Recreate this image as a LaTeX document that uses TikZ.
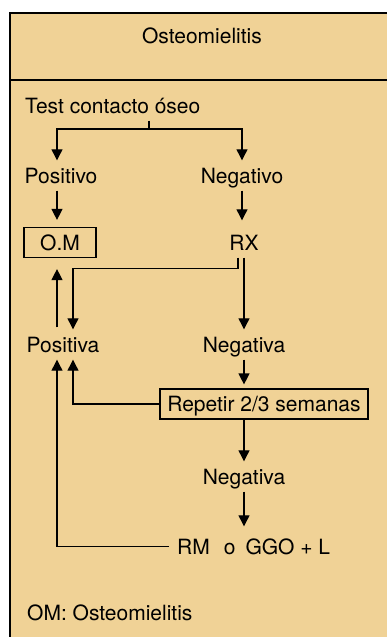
\documentclass[tikz,border=0pt]{standalone}
\usepackage{fontspec}
\setmainfont{TeX Gyre Heros}
\usetikzlibrary{arrows.meta}
\definecolor{sand}{RGB}{240,210,150}

\begin{document}
\begin{tikzpicture}[x=1pt,y=-1pt,
  lbl/.style={inner sep=0pt,minimum height=30pt,text height=15pt,text depth=0pt,
    font=\fontsize{21}{25}\selectfont},
  boxed/.style={lbl,draw,line width=1.2pt},
  arr/.style={-{Triangle[width=11pt,length=11pt]},line width=1.2pt},
  ln/.style={line width=1.2pt}]
\useasboundingbox (0,0) rectangle (387,637);
\clip (0,0) rectangle (387,637);

% frame
\draw[line width=2.5pt,fill=sand] (10,13) rectangle (400,660);
\draw[line width=2.5pt] (10,80) -- (400,80);

\node[lbl] (title) at (202,35.5) {Osteomielitis};
\node[lbl,anchor=west] (test) at (25,105.5) {Test contacto óseo};
\node[lbl] (pos) at (61,175.5) {Positivo};
\node[lbl] (neg) at (242,175.5) {Negativo};
\node[boxed,minimum width=72pt] (om) at (60,242.5) {O.M};
\node[lbl] (rx) at (244,242.5) {RX};
\node[lbl] (posa) at (63,344.5) {Positiva};
\node[lbl] (nega) at (244,344.5) {Negativa};
\node[boxed,minimum width=208pt] (rep) at (264,404) {Repetir 2/3 semanas};
\node[lbl] (nega2) at (244,476.5) {Negativa};
\node[lbl,anchor=west] (rm) at (177,546.5) {RM\hspace{14pt}o\hspace{10pt}GGO + L};
\node[lbl,anchor=west] (note) at (27,612.5) {OM: Osteomielitis};

\coordinate (split) at (149,129);
\coordinate (l1) at (57,0);
\coordinate (l2) at (73,0);

\draw[ln] (test.south -| split) -- (split);
\draw[arr] (split) -| (l1 |- pos.north);
\draw[arr] (split) -| (neg.north);
\draw[arr,shorten >=7pt] (pos.south -| l1) -- (om.north -| l1);
\draw[arr,shorten >=7pt] (neg.south) -- (neg.south |- rx.north);
\draw[arr] ([xshift=-6pt]rx.south) -- ++(0,10.5) -| (l2 |- posa.north);
\draw[arr] (rx.south) -- (nega.north);
\draw[arr,shorten <=2pt,shorten >=11pt] (l1 |- posa.north) -- (l1 |- om.south);
\draw[arr,shorten >=4pt] (nega.south) -- (nega.south |- rep.north);
\draw[arr] (rep.west) -| (l2 |- posa.south);
\draw[arr] (rep.south -| nega2) -- (nega2.north);
\draw[arr,shorten >=5pt] (nega2.south) -- (nega2.south |- rm.north);
\draw[arr] ([xshift=-8pt]rm.west) -| (l1 |- posa.south);

\end{tikzpicture}
\end{document}
